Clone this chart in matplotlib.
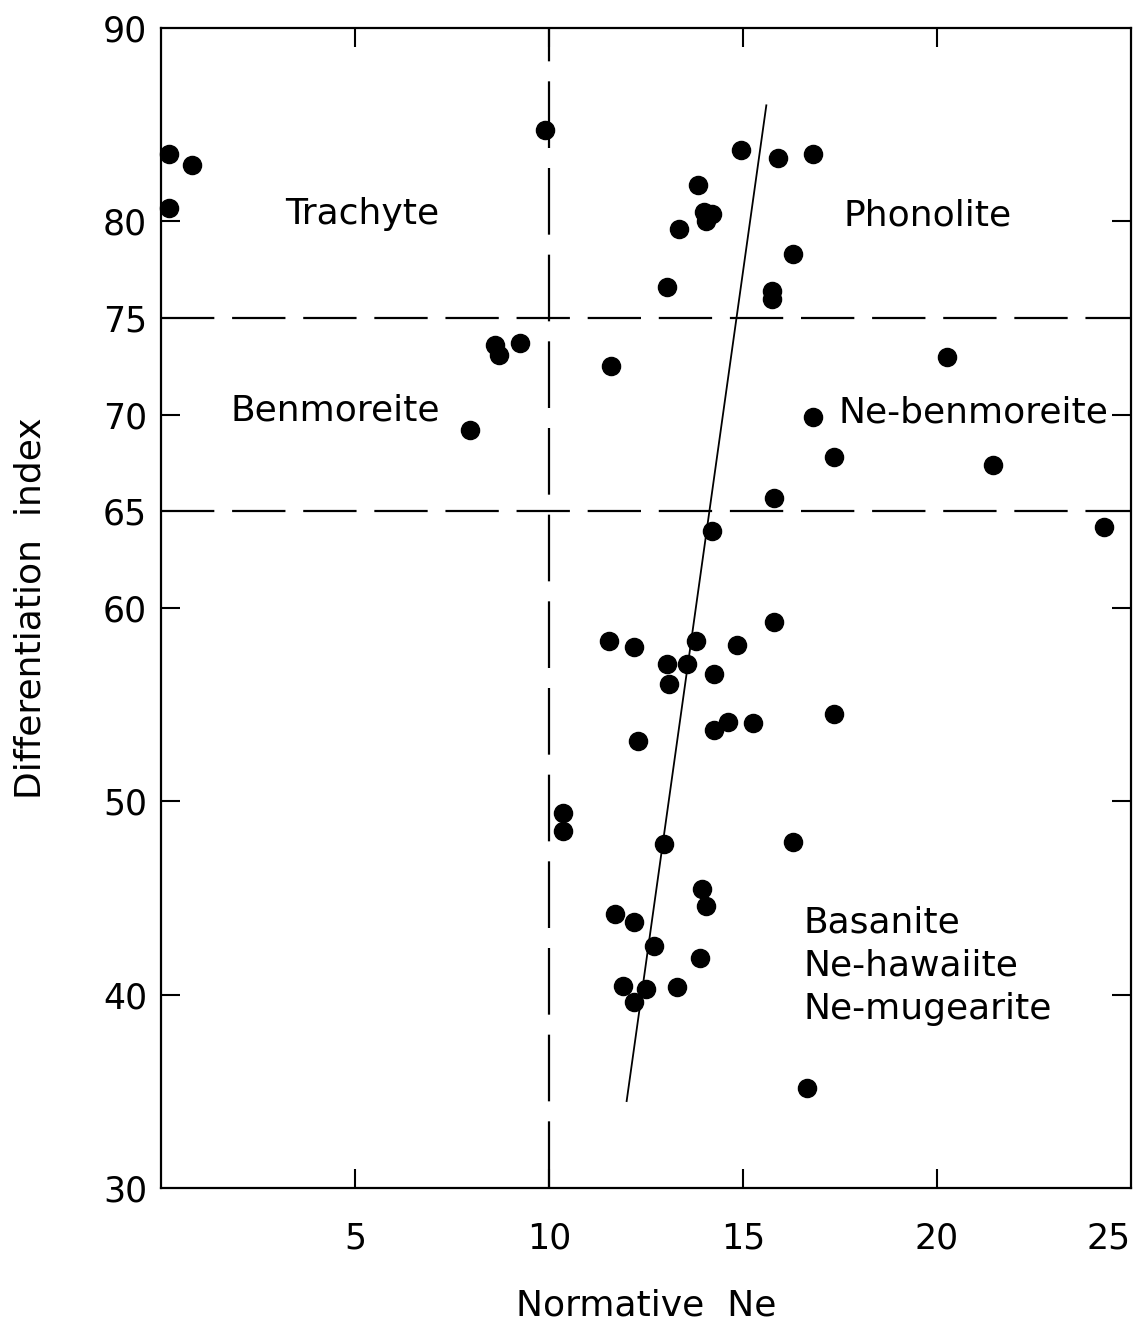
import numpy as np
import matplotlib.pyplot as plt

# data (normative Ne vs differentiation index)
ne = [0.2, 0.8, 0.2, 9.9, 14.95, 15.9, 16.8, 13.85, 14.0, 14.2, 14.05, 13.35,
      13.05, 16.3, 15.75, 15.75, 8.6, 8.7, 9.25, 7.95, 11.6, 20.25, 16.8, 17.35,
      21.45, 15.8, 14.2, 24.3,
      11.55, 12.2, 13.8, 15.8, 14.85, 13.05, 13.55, 13.1, 14.25, 17.35, 14.6,
      14.25, 15.25, 12.3, 10.35, 10.35, 12.95, 16.3,
      13.95, 14.05, 11.7, 12.2, 12.7, 13.9, 11.9, 12.5, 12.2, 13.3, 16.65]
di = [83.5, 82.9, 80.7, 84.7, 83.7, 83.3, 83.5, 81.9, 80.5, 80.4, 80.0, 79.6,
      76.6, 78.3, 76.4, 76.0, 73.6, 73.1, 73.7, 69.2, 72.5, 73.0, 69.9, 67.8,
      67.4, 65.7, 64.0, 64.2,
      58.3, 58.0, 58.3, 59.3, 58.1, 57.1, 57.1, 56.05, 56.6, 54.5, 54.1,
      53.7, 54.05, 53.1, 49.4, 48.45, 47.8, 47.9,
      45.45, 44.6, 44.2, 43.75, 42.5, 41.9, 40.45, 40.3, 39.6, 40.4, 35.2]

trend_x = [12.0, 15.6]
trend_y = [34.5, 86.0]

field_labels = ['Trachyte', 'Phonolite', 'Benmoreite', 'Ne-benmoreite',
                'Basanite\nNe-hawaiite\nNe-mugearite']
label_x = [3.2, 17.6, 1.8, 17.45, 16.55]
label_y = [80.4, 80.3, 70.2, 70.1, 41.5]

plt.rcParams['font.family'] = 'DejaVu Sans'

fig = plt.figure(figsize=(11.47, 13.27), dpi=100)
ax = fig.add_axes([0.1404, 0.1047, 0.8457, 0.8742])

# field boundaries
ax.axvline(10, color='black', lw=1.6, dashes=(30, 9))
ax.axhline(75, color='black', lw=1.6, dashes=(24, 8))
ax.axhline(65, color='black', lw=1.6, dashes=(24, 8))

ax.plot(trend_x, trend_y, color='black', lw=1.3)
ax.scatter(ne, di, s=170, color='black', zorder=3, clip_on=False)

for t, x, y in zip(field_labels, label_x, label_y):
    ax.text(x, y, t, fontsize=26, ha='left', va='center', linespacing=1.35)

ax.set_xlim(0, 25)
ax.set_ylim(30, 90)

ax.set_xticks([5, 10, 15, 20])
ax.set_xticks([25], minor=True)
ax.set_xticklabels(['5', '10', '15', '20'])
ax.set_xticklabels(['25'], minor=True, ha='right')
ax.set_yticks([40, 50, 60, 70, 80])
ax.set_yticks([30, 65, 75, 90], minor=True)
ax.set_yticklabels(['30', '65', '75', '90'], minor=True)

ax.tick_params(axis='both', which='major', direction='in', length=14, width=1.5,
               labelsize=25, top=True, right=True)
ax.tick_params(axis='both', which='minor', length=0, labelsize=25)
ax.tick_params(axis='x', which='both', pad=24)
ax.tick_params(axis='y', which='both', pad=10)

for s in ax.spines.values():
    s.set_linewidth(1.6)

ax.set_xlabel('Normative  Ne', fontsize=26, labelpad=24)
ax.set_ylabel('Differentiation  index', fontsize=26, labelpad=40)

fig.savefig('out.png', dpi=100, facecolor='white')
